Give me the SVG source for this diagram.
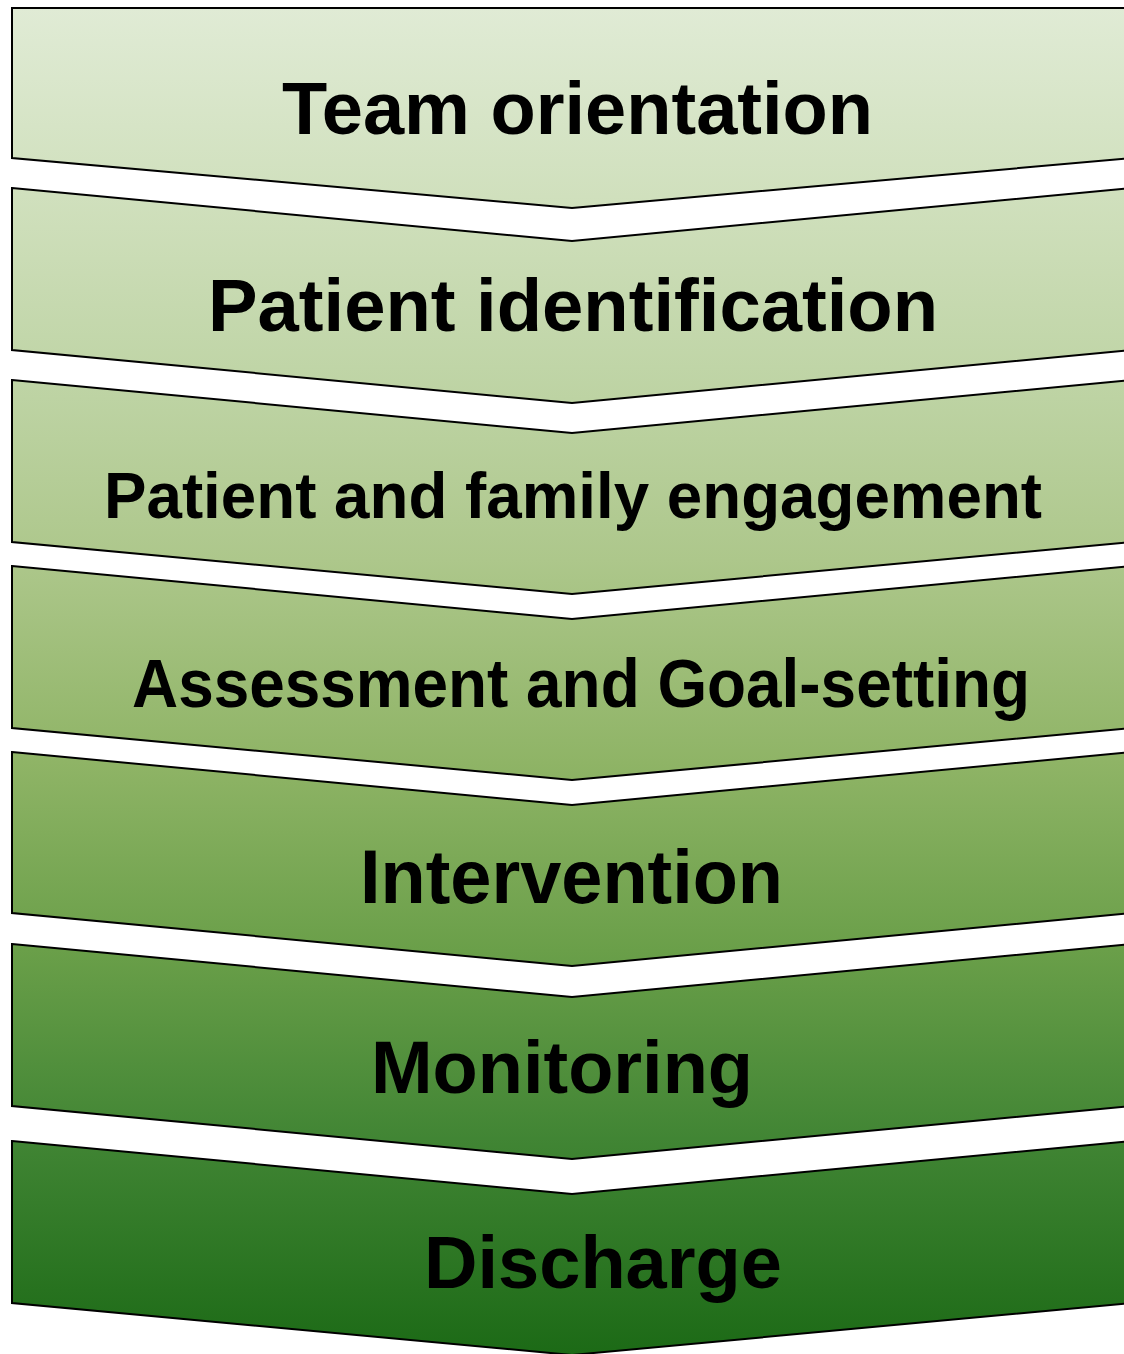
<svg xmlns="http://www.w3.org/2000/svg" width="1124" height="1354" viewBox="0 0 1124 1354">
  <defs>
    <!-- one continuous light-to-dark green ramp shared by all stages -->
    <linearGradient id="ramp" gradientUnits="userSpaceOnUse" x1="0" y1="8" x2="0" y2="1354">
      <stop offset="0" stop-color="#e0ebd5"/>
      <stop offset="0.14" stop-color="#d0e0bd"/>
      <stop offset="0.29" stop-color="#bdd3a3"/>
      <stop offset="0.41" stop-color="#adc78b"/>
      <stop offset="0.56" stop-color="#8fb466"/>
      <stop offset="0.70" stop-color="#6a9f49"/>
      <stop offset="0.84" stop-color="#418534"/>
      <stop offset="1" stop-color="#1c6a16"/>
    </linearGradient>
    <style>
      .stage { fill: url(#ramp); stroke: #000; stroke-width: 2; stroke-linejoin: miter; }
      .label { font-family: "Liberation Sans", Arial, sans-serif; font-weight: bold; fill: #000; }
    </style>
  </defs>

  <rect width="1124" height="1354" fill="#ffffff"/>

  <g id="stage-team-orientation">
    <polygon class="stage" points="12,8 1132,8 1132,158 572,208 12,158"/>
    <text class="label" x="282" y="134" font-size="75" textLength="591" lengthAdjust="spacingAndGlyphs">Team orientation</text>
  </g>

  <g id="stage-patient-identification">
    <polygon class="stage" points="12,188 572,241 1132,188 1132,350 572,403 12,350"/>
    <text class="label" x="208" y="331" font-size="75" textLength="730" lengthAdjust="spacingAndGlyphs">Patient identification</text>
  </g>

  <g id="stage-engagement">
    <polygon class="stage" points="12,380 572,433 1132,380 1132,542 572,594 12,542"/>
    <text class="label" x="104" y="518" font-size="64" textLength="938" lengthAdjust="spacingAndGlyphs">Patient and family engagement</text>
  </g>

  <g id="stage-assessment">
    <polygon class="stage" points="12,566 572,619 1132,566 1132,728 572,780 12,728"/>
    <text class="label" x="132" y="707" font-size="68" textLength="898" lengthAdjust="spacingAndGlyphs">Assessment and Goal-setting</text>
  </g>

  <g id="stage-intervention">
    <polygon class="stage" points="12,752 572,805 1132,752 1132,913 572,966 12,913"/>
    <text class="label" x="360" y="903" font-size="76" textLength="423" lengthAdjust="spacingAndGlyphs">Intervention</text>
  </g>

  <g id="stage-monitoring">
    <polygon class="stage" points="12,944 572,997 1132,944 1132,1106 572,1159 12,1106"/>
    <text class="label" x="371" y="1093" font-size="75" textLength="382" lengthAdjust="spacingAndGlyphs">Monitoring</text>
  </g>

  <g id="stage-discharge">
    <polygon class="stage" points="12,1141 572,1194 1132,1141 1132,1303 572,1355 12,1303"/>
    <text class="label" x="424" y="1288" font-size="75" textLength="358" lengthAdjust="spacingAndGlyphs">Discharge</text>
  </g>

  <!-- stages touch edge-to-edge by shape; no separate connector lines -->
  <g id="connectors"/>
</svg>
